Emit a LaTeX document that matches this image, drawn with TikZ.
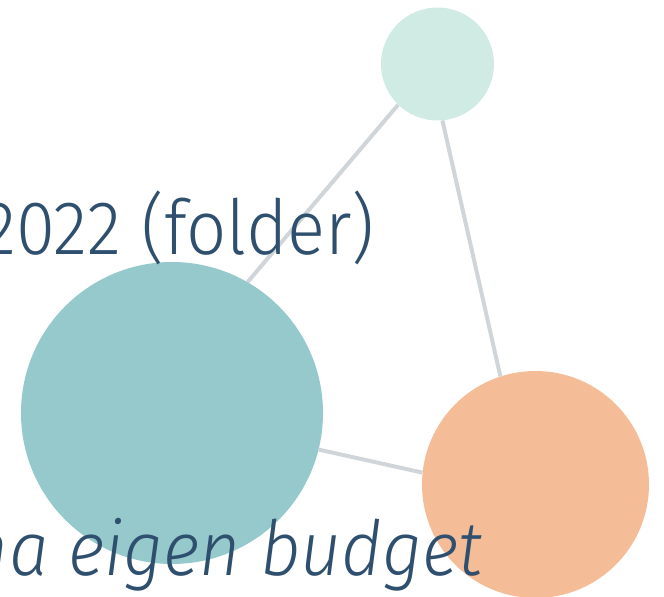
\documentclass[tikz,border=0pt]{standalone}
\usepackage{fontspec}
\setmainfont{Fira Sans Light}[ItalicFont={Fira Sans Light Italic},FakeStretch=0.93]
\definecolor{txtblue}{HTML}{2F4F6E}
\definecolor{linkgray}{HTML}{D0D5D9}
\definecolor{tealfill}{HTML}{96C9CC}
\definecolor{mintfill}{HTML}{D0EAE4}
\definecolor{orangefill}{HTML}{F5BD97}
\begin{document}
\begin{tikzpicture}[x=1pt,y=-1pt,
  bubble/.style={circle,inner sep=0pt,draw=none},
  link/.style={draw=linkgray,line width=4pt},
  lbl/.style={text=txtblue,inner sep=0pt,font=\fontsize{76}{80}\selectfont}]
\useasboundingbox (0,0) rectangle (664,597);
\node[bubble,fill=tealfill,minimum size=302pt] (teal) at (172,413) {};
\node[bubble,fill=mintfill,minimum size=113pt] (mint) at (437.5,64) {};
\node[bubble,fill=orangefill,minimum size=227pt] (orange) at (535.5,484.5) {};
\draw[link] (teal.60.9) -- (mint.226.1);
\draw[link] (mint.275.6) -- (orange.108.9);
\draw[link] (teal.-14.2) -- (orange.174.6);
\node[lbl,anchor=base east] (t1) at (375,254) {2022 (folder)};
\node[lbl,anchor=base east] (t2) at (3,366) {o};
\node[lbl,anchor=base east,font=\fontsize{76}{80}\selectfont\itshape] (t3) at (483,575) {na eigen budget};
\end{tikzpicture}
\end{document}
